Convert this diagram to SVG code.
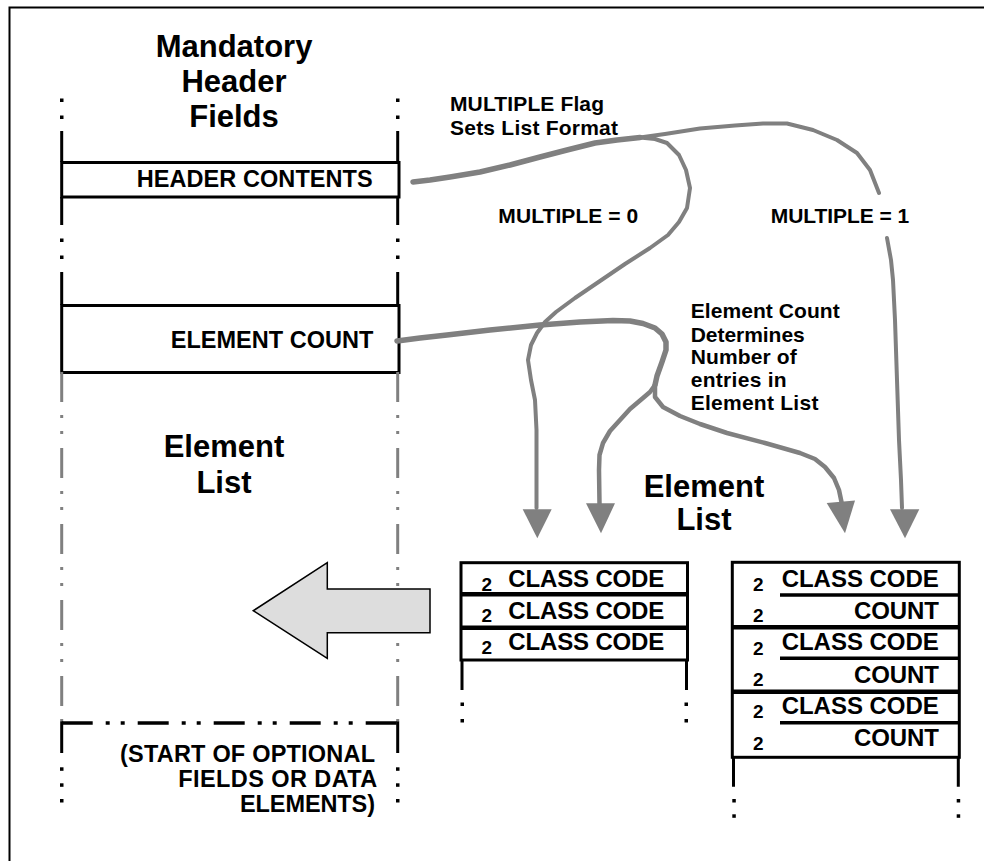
<svg xmlns="http://www.w3.org/2000/svg" xmlns:xlink="http://www.w3.org/1999/xlink" width="984" height="861" viewBox="0 0 984 861">
<defs>
<style>
.t{font-family:"Liberation Sans",Arial,sans-serif;font-weight:bold;fill:#000}
.big{font-size:31px}
.med{font-size:23.5px}
.lab{font-size:21px}
.sm{font-size:21px}
.dg{font-size:19px}
.cls{font-size:24px}
.blk{stroke:#000;stroke-width:3;fill:none}
.div{stroke:#000;stroke-width:4.5}
.gray{stroke:#808080;stroke-width:3;stroke-dasharray:30 13 3 13 3 14;fill:none}
.conn{fill:none;stroke:#808080;stroke-linecap:round;stroke-linejoin:round}
.head{fill:#808080}
</style>
<rect id="dot" width="3.5" height="3.5" fill="#000"/>
</defs>
<rect width="984" height="861" fill="#fff"/>
<path d="M9.5,861 V7.5 H984" fill="none" stroke="#000" stroke-width="2"/>

<g id="mandatory-header">
<text class="t big" x="234" y="56.7" text-anchor="middle">Mandatory</text>
<text class="t big" x="234" y="91.7" text-anchor="middle">Header</text>
<text class="t big" x="234" y="126.7" text-anchor="middle">Fields</text>
<use xlink:href="#dot" x="60" y="98.5"/><use xlink:href="#dot" x="60" y="115.5"/>
<use xlink:href="#dot" x="396" y="98.5"/><use xlink:href="#dot" x="396" y="115.5"/>
<path class="blk" d="M61.7,131V162M397.7,131V162M61.7,197V225M397.7,197V225M61.7,272V305M397.7,272V305"/>
<use xlink:href="#dot" x="60" y="238.5"/><use xlink:href="#dot" x="60" y="255.5"/>
<use xlink:href="#dot" x="396" y="238.5"/><use xlink:href="#dot" x="396" y="255.5"/>
</g>

<g id="header-contents">
<rect class="blk" x="61.7" y="162.5" width="337.3" height="34.5"/>
<text class="t med" x="136.7" y="187" textLength="236" lengthAdjust="spacing">HEADER CONTENTS</text>
</g>

<g id="element-count">
<rect class="blk" x="61.7" y="305.5" width="337.3" height="67"/>
<text class="t med" x="170.7" y="347.5" textLength="202.6" lengthAdjust="spacing">ELEMENT COUNT</text>
</g>

<g id="element-list-left">
<path class="gray" d="M61.7,372V722M397.7,372V722"/>
<text class="t big" x="224" y="456.7" text-anchor="middle">Element</text>
<text class="t big" x="224" y="492.7" text-anchor="middle">List</text>
</g>

<g id="optional-fields">
<path d="M61.7,723H398" stroke="#000" stroke-width="3.5" stroke-dasharray="31 13 4 11 4 13" fill="none"/>
<path class="blk" d="M61.7,721.5V753M397.7,721.5V753"/>
<use xlink:href="#dot" x="60" y="767.3"/><use xlink:href="#dot" x="60" y="783.3"/><use xlink:href="#dot" x="60" y="799"/>
<use xlink:href="#dot" x="396" y="767.3"/><use xlink:href="#dot" x="396" y="783.3"/><use xlink:href="#dot" x="396" y="799"/>
<text class="t med" x="120" y="762" textLength="255" lengthAdjust="spacing">(START OF OPTIONAL</text>
<text class="t med" x="178.3" y="787" textLength="199" lengthAdjust="spacing">FIELDS OR DATA</text>
<text class="t med" x="240" y="812" textLength="135" lengthAdjust="spacing">ELEMENTS)</text>
</g>

<g id="insert-arrow">
<polygon points="253.3,610.7 327.3,562.7 327.3,589 430,589 430,632.7 327.3,632.7 327.3,658.3" fill="#dddddd" stroke="#000" stroke-width="1.5" stroke-linejoin="miter"/>
</g>

<g id="list-single">
<rect class="blk" x="461" y="562.7" width="226.5" height="97.3"/>
<path class="div" d="M461,594.3H687.5M461,627.7H687.5"/>
<path class="blk" d="M462,660V690M686.5,660V690"/>
<use xlink:href="#dot" x="460.5" y="702.5"/><use xlink:href="#dot" x="460.5" y="719"/>
<use xlink:href="#dot" x="684.5" y="702.5"/><use xlink:href="#dot" x="684.5" y="719"/>
<text class="t dg" x="481.5" y="590.5">2</text>
<text class="t dg" x="481.5" y="622">2</text>
<text class="t dg" x="481.5" y="653.5">2</text>
<text class="t cls" x="508.3" y="587" textLength="156" lengthAdjust="spacing">CLASS CODE</text>
<text class="t cls" x="508.3" y="618.5" textLength="156" lengthAdjust="spacing">CLASS CODE</text>
<text class="t cls" x="508.3" y="650.3" textLength="156" lengthAdjust="spacing">CLASS CODE</text>
</g>

<g id="list-multiple">
<rect class="blk" x="732.3" y="562.3" width="227" height="195"/>
<path class="div" d="M732.3,627.3H959.3M732.3,691.7H959.3"/>
<path d="M780,595H959.3M780,658.3H959.3M780,722.7H959.3" stroke="#000" stroke-width="3.5"/>
<path class="blk" d="M733.5,757V786.7M958.3,757V786.7"/>
<use xlink:href="#dot" x="732.3" y="799"/><use xlink:href="#dot" x="732.3" y="814.3"/>
<use xlink:href="#dot" x="956.7" y="799"/><use xlink:href="#dot" x="956.7" y="814.3"/>
<text class="t dg" x="753" y="591">2</text>
<text class="t dg" x="753" y="622">2</text>
<text class="t dg" x="753" y="655">2</text>
<text class="t dg" x="753" y="686">2</text>
<text class="t dg" x="753" y="717.5">2</text>
<text class="t dg" x="753" y="749.5">2</text>
<text class="t cls" x="781.7" y="587" textLength="157" lengthAdjust="spacing">CLASS CODE</text>
<text class="t cls" x="781.7" y="650.3" textLength="157" lengthAdjust="spacing">CLASS CODE</text>
<text class="t cls" x="781.7" y="714.3" textLength="157" lengthAdjust="spacing">CLASS CODE</text>
<text class="t cls" x="854" y="618.5" textLength="85" lengthAdjust="spacing">COUNT</text>
<text class="t cls" x="854" y="682.5" textLength="85" lengthAdjust="spacing">COUNT</text>
<text class="t cls" x="854" y="746.3" textLength="85" lengthAdjust="spacing">COUNT</text>
</g>

<g id="element-list-mid">
<text class="t big" x="704" y="496.7" text-anchor="middle">Element</text>
<text class="t big" x="704" y="530" text-anchor="middle">List</text>
</g>

<g id="labels">
<text class="t lab" x="450" y="110.7" textLength="154" lengthAdjust="spacing">MULTIPLE Flag</text>
<text class="t lab" x="450" y="135" textLength="168" lengthAdjust="spacing">Sets List Format</text>
<text class="t lab" x="498.3" y="223.3" textLength="140" lengthAdjust="spacing">MULTIPLE = 0</text>
<text class="t lab" x="770.7" y="222.7" textLength="138.6" lengthAdjust="spacing">MULTIPLE = 1</text>
<text class="t sm" x="690.7" y="318.3" textLength="149" lengthAdjust="spacing">Element Count</text>
<text class="t sm" x="690.7" y="341.5" textLength="114" lengthAdjust="spacing">Determines</text>
<text class="t sm" x="690.7" y="364" textLength="106" lengthAdjust="spacing">Number of</text>
<text class="t sm" x="690.7" y="386.7" textLength="96" lengthAdjust="spacing">entries in</text>
<text class="t sm" x="690.7" y="410" textLength="127.7" lengthAdjust="spacing">Element List</text>
</g>

<g id="connectors">
<polyline class="conn" stroke-width="5.5" points="413,182 430,180 450,177 480,172 510,165 540,157 567,150 595,143 617,140 640,137.5"/>
<polyline class="conn" stroke-width="4" points="640,137.5 665,134 700,128.5 735,125.5 763,123.5 787,123.5 813,130 837,140 857,153 870,170 879,193"/>
<polyline class="conn" stroke-width="4" stroke-linecap="butt" points="887,238 891,260 893,280 895,320 897,380 899,440 901,480 902,508"/>
<polygon class="head" points="890,509.3 919.3,509.3 905,538.3"/>
<polyline class="conn" stroke-width="4" points="640,137.5 655,139 667,143 679,155 686,170 690,188 687,208 679,222 668,235 650,248 625,264 600,281 575,298 556,312 545,322 537,333 531,345 528,360 531,380 535,400 536.5,430 536.5,470 536.5,508"/>
<polygon class="head" points="522.7,509.3 551.7,509.3 537.3,538.3"/>
<polyline class="conn" stroke-width="5.5" points="397,341 420,338 447,335 490,330 540,325 580,322 613,320.5 630,321 643,323.5 655,328 662,334 666,342 666,350 662,362 657,376 655,385"/>
<polyline class="conn" stroke-width="4.5" points="655,385 650,392 643,398 630,409 620,420 610,431 603,443 599.5,455 599,470 599.5,504"/>
<polygon class="head" points="586,503.3 615,503.3 601,533.3"/>
<polyline class="conn" stroke-width="4.5" points="655,385 655,397 663,407 680,416 700,424 727,433 765,443 800,453 815,459 825,467 834,478 839,490 841.5,502"/>
<polygon class="head" points="826.7,503 855,500.5 845,533.3"/>
</g>
</svg>
